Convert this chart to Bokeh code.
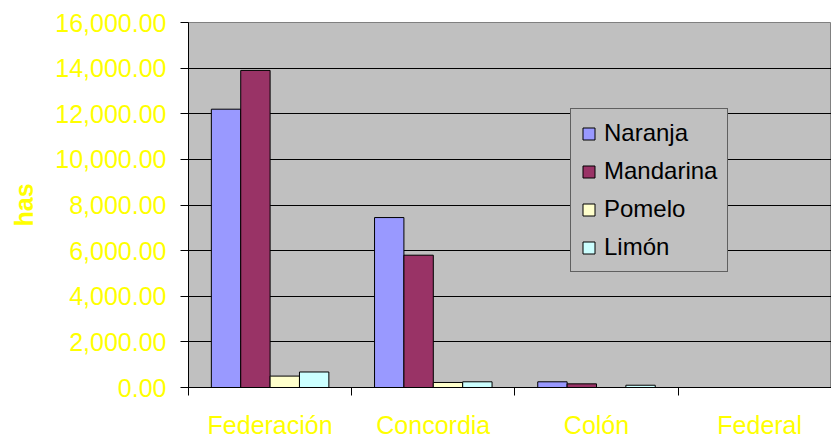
import numpy as np
from bokeh.plotting import figure
from bokeh.models import Range1d, FixedTicker, NumeralTickFormatter, Legend, LegendItem, ColumnDataSource
from bokeh.embed import file_html
from bokeh.resources import INLINE

categories = ["Federación", "Concordia", "Colón", "Federal"]
series = ["Naranja", "Mandarina", "Pomelo", "Limón"]
naranja = [12200, 7450, 250, 0]
mandarina = [13900, 5800, 160, 0]
pomelo = [500, 220, 0, 0]
limon = [680, 250, 100, 0]
colors = ["#9999FF", "#993366", "#FFFFCC", "#CCFFFF"]
y_ticks = [0, 2000, 4000, 6000, 8000, 10000, 12000, 14000, 16000]

YELLOW = "#FFFF00"
FONT = "Liberation Sans"

p = figure(width=831, height=441, output_backend="svg", toolbar_location=None,
           x_range=Range1d(0, 3.94), y_range=Range1d(0, 16000),
           min_border_left=188, min_border_top=22, min_border_bottom=54, min_border_right=0)
p.background_fill_color = "#C0C0C0"
p.border_fill_color = "white"
p.outline_line_color = "#808080"

# bars
bar_w = 0.18
idx = np.arange(len(categories))
renderers = []
for j, (name, vals, col) in enumerate(zip(series, [naranja, mandarina, pomelo, limon], colors)):
    xs = idx + 0.5 + (j - 1.5) * bar_w
    src = ColumnDataSource(dict(x=xs, top=vals))
    r = p.vbar(x="x", top="top", bottom=0, width=bar_w, source=src,
               fill_color=col, line_color="black", line_width=1)
    renderers.append((name, r))

# grid
p.xgrid.visible = False
p.ygrid.ticker = FixedTicker(ticks=y_ticks[1:-1])
p.ygrid.grid_line_color = "black"
p.ygrid.grid_line_width = 1

# y axis
ya = p.yaxis[0]
ya.ticker = FixedTicker(ticks=y_ticks)
ya.formatter = NumeralTickFormatter(format="0,0.00")
ya.major_tick_in = 0
ya.major_tick_out = 8
ya.minor_tick_line_color = None
ya.axis_line_color = "black"
ya.major_tick_line_color = "black"
ya.major_label_text_color = YELLOW
ya.major_label_text_font = FONT
ya.major_label_text_font_size = "25px"
ya.major_label_standoff = 14
ya.axis_label = "has"
ya.axis_label_text_color = YELLOW
ya.axis_label_text_font = FONT
ya.axis_label_text_font_style = "bold"
ya.axis_label_text_font_size = "25px"
ya.axis_label_standoff = 14

# x axis
xa = p.xaxis[0]
centers = [i + 0.5 for i in range(len(categories))]
xa.ticker = FixedTicker(ticks=centers, minor_ticks=list(range(len(categories))))
xa.major_label_overrides = {c: n for c, n in zip(centers, categories)}
xa.major_tick_line_color = None
xa.major_tick_in = 0
xa.major_tick_out = 0
xa.minor_tick_in = 0
xa.minor_tick_out = 8
xa.minor_tick_line_color = "black"
xa.axis_line_color = "black"
xa.major_label_text_color = YELLOW
xa.major_label_text_font = FONT
xa.major_label_text_font_size = "25px"
xa.major_label_standoff = 15

legend = Legend(items=[LegendItem(label=n, renderers=[r]) for n, r in renderers],
                location=(382, 115))
legend.background_fill_color = "#C0C0C0"
legend.background_fill_alpha = 1
legend.border_line_color = "black"
legend.border_line_width = 1
legend.label_text_font = FONT
legend.label_text_font_size = "24px"
legend.label_text_color = "black"
legend.glyph_width = 15
legend.glyph_height = 15
legend.label_standoff = 8
legend.padding = 10
legend.spacing = 10
legend.label_height = 27
legend.margin = 0
p.add_layout(legend, "center")

open("out.html", "w").write(file_html(p, INLINE))
